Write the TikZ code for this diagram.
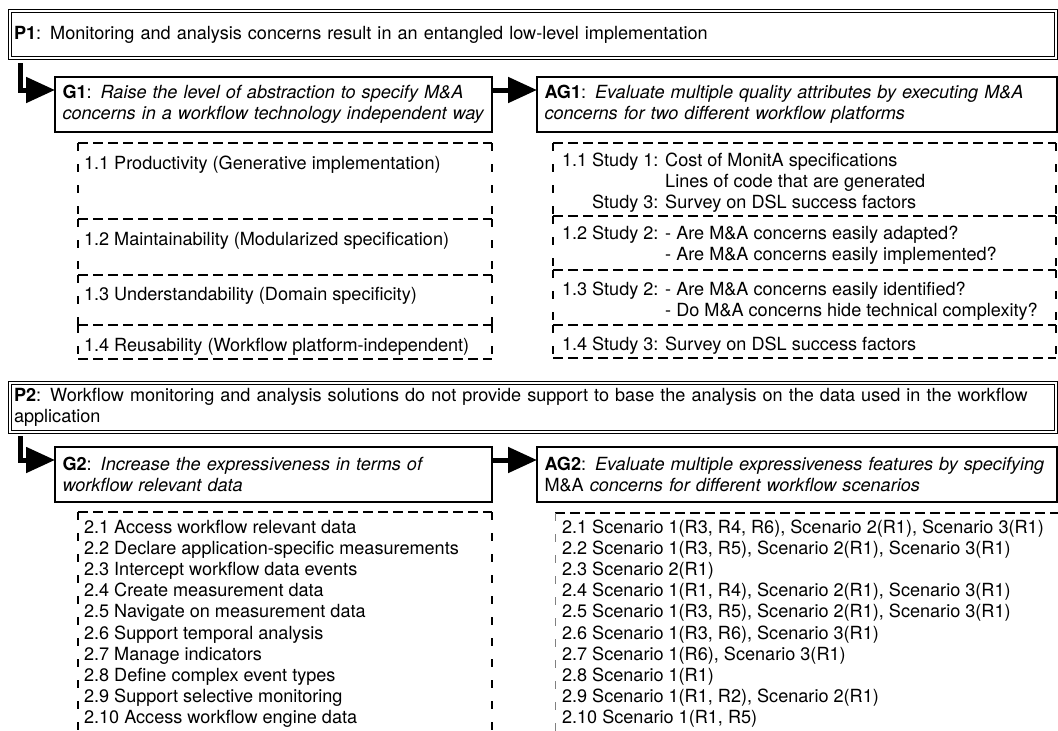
\documentclass[tikz,border=0pt]{standalone}
\usepackage{fontspec}
\setmainfont{TeX Gyre Heros}
\usetikzlibrary{arrows.meta}

\begin{document}
\begin{tikzpicture}[x=1pt,y=-1pt,
  every node/.style={font=\fontsize{18.1}{21.1}\selectfont, inner sep=0pt, outer sep=0pt},
  hd/.style={line width=1.3pt, dash pattern=on 10pt off 5pt},
  vd/.style={line width=1.3pt, dash pattern=on 8pt off 13pt},
  vdthin/.style={line width=0.8pt, gray, dash pattern=on 8pt off 13pt},
  probbox/.style={draw, double, line width=1.1pt, double distance=2.5pt,
    anchor=north west, inner xsep=4pt, text width=1038pt, align=left},
  goalbox/.style={draw, line width=1.4pt, anchor=north west, inner xsep=7.5pt,
    text width=505pt, align=left, minimum height=55pt},
  cell/.style={anchor=north west, minimum width=414pt,
    append after command={
      (\tikzlastnode.north west) edge[hd] (\tikzlastnode.north east)
      (\tikzlastnode.south west) edge[hd] (\tikzlastnode.south east)
      (\tikzlastnode.north west) edge[vd] (\tikzlastnode.south west)
      (\tikzlastnode.north east) edge[vd] (\tikzlastnode.south east)}},
  item/.style={anchor=base west},
  flow/.style={line width=5pt, -{Triangle[length=29pt,width=25pt]}}
]
\path[use as bounding box] (0,0) rectangle (1058,731);
\clip (0,0) rectangle (1058,731);

% ---------------- problem 1 ----------------
\node[probbox, minimum height=47pt] (P1) at (10,11)
  {\textbf{P1}: Monitoring and analysis concerns result in an entangled low-level implementation};

\node[goalbox, text width=422pt] (G1) at (55,77)
  {\textbf{G1}: \textit{Raise the level of abstraction to specify M\&A}\\
   \textit{concerns in a workflow technology independent way}};
\node[goalbox] (AG1) at (537,77)
  {\textbf{AG1}: \textit{Evaluate multiple quality attributes by executing M\&A}\\
   \textit{concerns for two different workflow platforms}};

\draw[flow] ([xshift=10.8pt,yshift=-5pt]P1.south west) |- ([yshift=-13pt]G1.north west);
\draw[flow] ([yshift=-13pt]G1.north east) -- ([yshift=-13pt]AG1.north west);

% quality attributes
\node[cell, minimum height=76pt] (L11) at (78,143) {};
\node[cell, minimum height=56pt] (L12) at (78,219) {};
\node[cell, minimum height=50pt] (L13) at (78,275) {};
\node[cell, minimum height=34pt] (L14) at (78,325) {};
\node[item] (l11) at (84,169.5) {1.1 Productivity (Generative implementation)};
\node[item] (l12) at (84,245) {1.2 Maintainability (Modularized specification)};
\node[item] (l13) at (84,300.5) {1.3 Understandability (Domain specificity)};
\node[item] (l14) at (84,351.5) {1.4 Reusability (Workflow platform-independent)};

% evaluation studies
\node[cell, minimum width=503pt, minimum height=73pt] (R11) at (553,143) {};
\node[cell, minimum width=503pt, minimum height=54pt] (R12) at (553,216) {};
\node[cell, minimum width=503pt, minimum height=55pt] (R13) at (553,270) {};
\node[cell, minimum width=503pt, minimum height=33pt] (R14) at (553,325) {};
\node[item] (r11a) at (562,166.5) {1.1 Study 1: Cost of MonitA specifications};
\node[item] (r11b) at (562,187.5) {\phantom{1.1 Study 1: }Lines of code that are generated};
\node[item] (r11c) at (562,208.5) {\phantom{1.1 }Study 3: Survey on DSL success factors};
\node[item] (r12a) at (562,239) {1.2 Study 2: - Are M\&A concerns easily adapted?};
\node[item] (r12b) at (562,260.5) {\phantom{1.2 Study 2: }- Are M\&A concerns easily implemented?};
\node[item] (r13a) at (562,295.5) {1.3 Study 2: - Are M\&A concerns easily identified?};
\node[item] (r13b) at (562,316.5) {\phantom{1.3 Study 2: }- Do M\&A concerns hide technical complexity?};
\node[item] (r14a) at (562,350.5) {1.4 Study 3: Survey on DSL success factors};

% ---------------- problem 2 ----------------
\node[probbox, minimum height=49pt] (P2) at (10,383)
  {\textbf{P2}: Workflow monitoring and analysis solutions do not provide support to base the analysis on the data used in the workflow\\
   application};

\node[goalbox, text width=422pt] (G2) at (55,447)
  {\textbf{G2}: \textit{Increase the expressiveness in terms of}\\
   \textit{workflow relevant data}};
\node[goalbox] (AG2) at (537,447)
  {\textbf{AG2}: \textit{Evaluate multiple expressiveness features by specifying}\\
   M\&A \textit{concerns for different workflow scenarios}};

\draw[flow] ([xshift=10.8pt,yshift=-4pt]P2.south west) |- ([yshift=-13pt]G2.north west);
\draw[flow] ([yshift=-13pt]G2.north east) -- ([yshift=-13pt]AG2.north west);

% expressiveness features
\node[anchor=north west, minimum width=414pt, minimum height=240pt] (G2L) at (78,512) {};
\draw[hd] (G2L.north west) -- (G2L.north east);
\draw[vd] (G2L.north west) -- (G2L.south west);
\draw[vd] (G2L.north east) -- (G2L.south east);
\foreach \t [count=\i] in {
  {2.1 Access workflow relevant data},
  {2.2 Declare application-specific measurements},
  {2.3 Intercept workflow data events},
  {2.4 Create measurement data},
  {2.5 Navigate on measurement data},
  {2.6 Support temporal analysis},
  {2.7 Manage indicators},
  {2.8 Define complex event types},
  {2.9 Support selective monitoring},
  {2.10 Access workflow engine data}}
  \node[item] (g2i\i) at (84,{533.5+21.1*(\i-1)}) {\t};

% scenarios
\node[anchor=north west, minimum width=520pt, minimum height=240pt] (A2L) at (555,513) {};
\draw[hd] (A2L.north west) -- (A2L.north east);
\draw[vdthin] (A2L.north west) -- (A2L.south west);
\foreach \t [count=\i] in {
  {2.1 Scenario 1(R3, R4, R6), Scenario 2(R1), Scenario 3(R1)},
  {2.2 Scenario 1(R3, R5), Scenario 2(R1), Scenario 3(R1)},
  {2.3 Scenario 2(R1)},
  {2.4 Scenario 1(R1, R4), Scenario 2(R1), Scenario 3(R1)},
  {2.5 Scenario 1(R3, R5), Scenario 2(R1), Scenario 3(R1)},
  {2.6 Scenario 1(R3, R6), Scenario 3(R1)},
  {2.7 Scenario 1(R6), Scenario 3(R1)},
  {2.8 Scenario 1(R1)},
  {2.9 Scenario 1(R1, R2), Scenario 2(R1)},
  {2.10 Scenario 1(R1, R5)}}
  \node[item] (a2i\i) at (562,{533.5+21.1*(\i-1)}) {\t};
\end{tikzpicture}
\end{document}
